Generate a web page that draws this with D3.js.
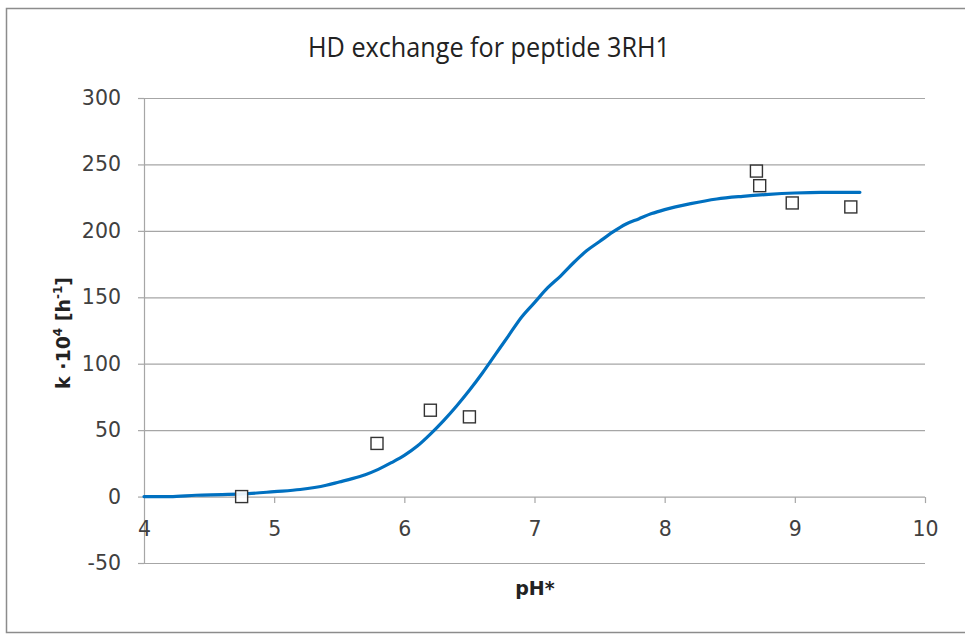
<html><head>
<meta charset="utf-8">
<title>HD exchange</title>
<script src="https://d3js.org/d3.v7.min.js"></script>
<style>
  body { margin: 0; background: #fff; }
  .tick text { font-family: "DejaVu Sans", sans-serif; font-size: 20.5px; fill: #404040; }
  #title { font-family: "Open Sans", sans-serif; font-size: 27px; fill: #222; }
  .axis-title { font-family: "DejaVu Sans", sans-serif; font-size: 19px; font-weight: bold; fill: #222; }
</style>
</head>
<body>
<svg id="chart" width="965" height="635"></svg>
<script>
// fitted curve
const fitPH = [4.0, 4.2, 4.4, 4.6, 4.8, 5.0, 5.2, 5.4, 5.5, 5.6, 5.7, 5.8, 5.9, 6.0, 6.1, 6.2, 6.3, 6.4, 6.5, 6.6, 6.7, 6.8, 6.9, 7.0, 7.1, 7.2, 7.3, 7.4, 7.5, 7.6, 7.7, 7.8, 7.9, 8.0, 8.2, 8.4, 8.6, 8.8, 9.0, 9.2, 9.5];
const fitK  = [0, 0, 1, 1.5, 2.2, 3.7, 5.3, 8.5, 11, 13.5, 16.5, 20.5, 25.5, 31, 38, 47, 57, 68, 80, 93, 107, 121, 135, 146, 157, 166, 176, 185, 192, 199, 205, 209, 213, 216, 220.5, 224, 226, 227.5, 228.5, 229, 229];

// measured points
const measPH = [4.75, 5.79, 6.2, 6.5, 8.705, 8.73, 8.98, 9.43];
const measK  = [0, 40, 65, 60, 245, 234, 221, 218];

const xTicks = [4, 5, 6, 7, 8, 9, 10];
const yTicks = [-50, 0, 50, 100, 150, 200, 250, 300];

const svg = d3.select("#chart");

// outer chart border
svg.append("rect").attr("x", 6.5).attr("y", 8.5).attr("width", 1000).attr("height", 624)
   .attr("fill", "none").attr("stroke", "#8c8c8c").attr("stroke-width", 1.5);

const x = d3.scaleLinear().domain([4, 10]).range([144, 925]);
const y = d3.scaleLinear().domain([-50, 300]).range([563, 98]);

// gridlines
svg.append("g").selectAll("line").data(yTicks.filter(d => d != 0))
   .join("line")
   .attr("x1", x(4)).attr("x2", x(10))
   .attr("y1", d => y(d) + 0.5).attr("y2", d => y(d) + 0.5)
   .attr("stroke", "#a6a6a6").attr("stroke-width", 1.2);

// y axis
const yAxis = svg.append("g").attr("transform", `translate(${x(4)},0)`)
   .call(d3.axisLeft(y).tickValues(yTicks).tickSize(6).tickPadding(17).tickFormat(d => String(d)));
yAxis.selectAll("line, path").attr("stroke", "#a6a6a6").attr("stroke-width", 1.2);

// x axis crossing at 0
const xAxis = svg.append("g").attr("transform", `translate(0,${y(0) + 0.5})`)
   .call(d3.axisBottom(x).tickValues(xTicks).tickSize(6).tickPadding(18).tickFormat(d => String(d)));
xAxis.selectAll("line, path").attr("stroke", "#a6a6a6").attr("stroke-width", 1.2);
xAxis.select("path").attr("d", `M${x(4)},0H${x(10)}`);
xAxis.selectAll(".tick").filter(d => d == 4).select("line").remove();

// fitted line
const fit = fitPH.map((p, i) => [p, fitK[i]]);
svg.append("path").datum(fit)
   .attr("fill", "none").attr("stroke", "#0070c0").attr("stroke-width", 3.2)
   .attr("stroke-linejoin", "round").attr("stroke-linecap", "round")
   .attr("d", d3.line().curve(d3.curveMonotoneX).x(d => x(d[0])).y(d => y(d[1])));

// markers
const pts = measPH.map((p, i) => [p, measK[i]]);
svg.append("g").selectAll("rect").data(pts).join("rect")
   .attr("x", d => x(d[0]) - 6).attr("y", d => y(d[1]) - 6)
   .attr("width", 12).attr("height", 12)
   .attr("fill", "#fff").attr("fill-opacity", 0.9).attr("stroke", "#333").attr("stroke-width", 1.4);

// titles
svg.append("text").attr("id", "title").attr("x", 308).attr("y", 57)
   .attr("textLength", 362).attr("lengthAdjust", "spacingAndGlyphs")
   .text("HD exchange for peptide 3RH1");

svg.append("text").attr("class", "axis-title").attr("x", 535).attr("y", 595)
   .attr("text-anchor", "middle").text("pH*");

const yt = svg.append("text").attr("class", "axis-title")
   .attr("transform", "translate(70,333) rotate(-90)").attr("text-anchor", "middle");
yt.append("tspan").text("k \u00b710");
yt.append("tspan").attr("font-size", "12px").attr("dy", -8).text("4");
yt.append("tspan").attr("dy", 8).text(" [h");
yt.append("tspan").attr("font-size", "12px").attr("dy", -8).text("-1");
yt.append("tspan").attr("dy", 8).text("]");
</script>
</body>
</html>
